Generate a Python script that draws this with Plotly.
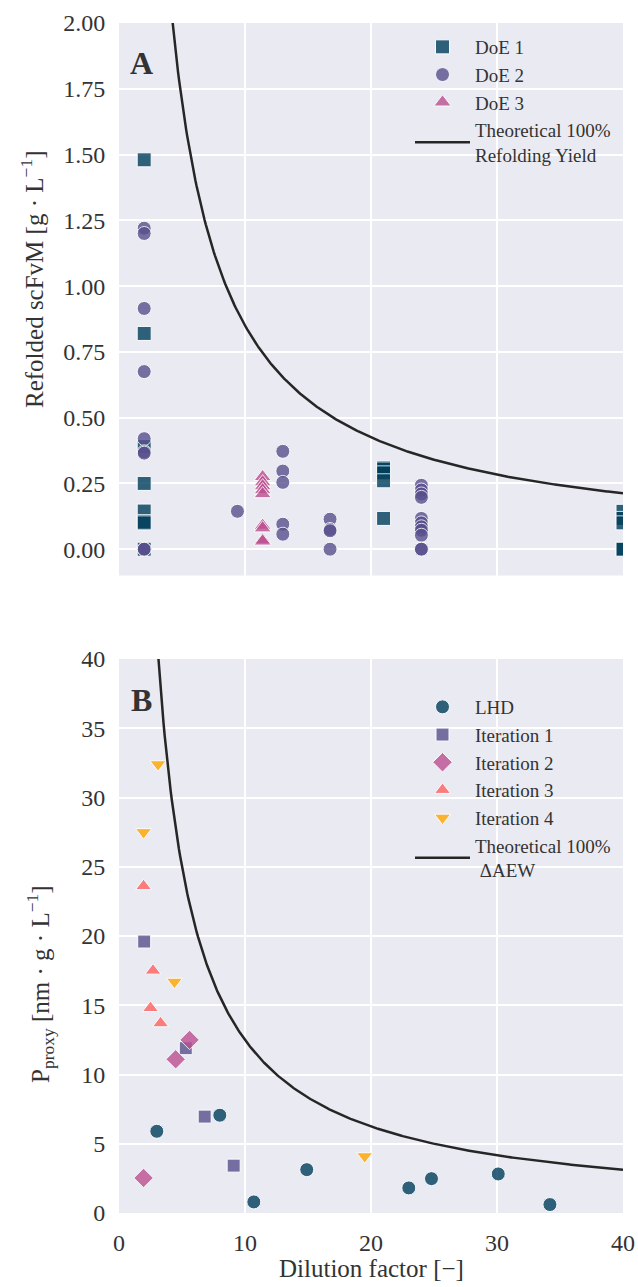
import numpy as np
import plotly.graph_objects as go

# ---------------- Panel A: refolded scFvM vs dilution factor ----------------
doe1_x = [2, 2, 2, 2, 2, 2, 2, 2,
          21, 21, 21, 21, 21,
          40, 40, 40, 40, 40]
doe1_y = [1.48, 0.82, 0.39, 0.25, 0.145, 0.105, 0.10, 0.0,
          0.31, 0.305, 0.29, 0.26, 0.117,
          0.144, 0.117, 0.10, 0.0, 0.0]

doe2_x = [2, 2, 2, 2, 2, 2, 2, 2, 2,
          9.4,
          13, 13, 13, 13, 13,
          16.75, 16.75, 16.75, 16.75,
          24, 24, 24, 24, 24, 24, 24, 24, 24, 24, 24]
doe2_y = [1.22, 1.20, 0.915, 0.675, 0.42, 0.37, 0.365, 0.0, 0.0,
          0.144,
          0.372, 0.297, 0.254, 0.095, 0.057,
          0.114, 0.075, 0.07, 0.0,
          0.243, 0.225, 0.21, 0.197, 0.117, 0.10, 0.085, 0.072, 0.053, 0.0, 0.0]

doe3_x = [11.4] * 9
doe3_y = [0.275, 0.255, 0.24, 0.225, 0.21, 0.09, 0.08, 0.035, 0.03]

# theoretical 100 % refolding yield:  y = k / dilution
yield_k = 8.5

# ---------------- Panel B: P_proxy vs dilution factor ----------------
lhd_x = [3.0, 8.0, 10.7, 14.9, 23.0, 24.8, 30.1, 34.2]
lhd_y = [5.9, 7.06, 0.8, 3.13, 1.81, 2.48, 2.82, 0.61]

it1_x = [2.0, 5.3, 6.8, 9.1]
it1_y = [19.6, 11.9, 6.96, 3.42]

it2_x = [1.95, 4.5, 5.6]
it2_y = [2.53, 11.1, 12.5]

it3_x = [1.95, 2.7, 2.5, 3.3]
it3_y = [23.6, 17.5, 14.8, 13.7]

it4_x = [3.1, 1.95, 4.4, 19.5]
it4_y = [32.4, 27.5, 16.7, 4.1]

# theoretical 100 % ΔAEW:  y = k / dilution
aew_k = 125.0

x_range = [0, 40]

palette = ["#003f5c", "#58508d", "#bc5090", "#ff6361", "#ffa600"]
FONT = "Liberation Serif, Times New Roman, serif"
TXT = "#333333"
BG = "#EAEAF2"

W, H = 638, 1287
ML, MR, MT, MB = 119, 15, 23, 74
plot_h = H - MT - MB


def py(px):
    """pixel row -> paper y fraction"""
    return (H - MB - px) / plot_h


def px_x(px):
    """pixel column -> paper x fraction"""
    return (px - ML) / (W - ML - MR)


fig = go.Figure()


def marker(color, symbol, size):
    return dict(color=color, symbol=symbol, size=size, opacity=0.8,
                line=dict(color="white", width=1))


# Panel A traces
fig.add_trace(go.Scatter(x=doe1_x, y=doe1_y, mode="markers", name="DoE 1",
                         marker=marker(palette[0], "square", 14),
                         xaxis="x", yaxis="y", legend="legend"))
fig.add_trace(go.Scatter(x=doe2_x, y=doe2_y, mode="markers", name="DoE 2",
                         marker=marker(palette[1], "circle", 14),
                         xaxis="x", yaxis="y", legend="legend"))
fig.add_trace(go.Scatter(x=doe3_x, y=doe3_y, mode="markers", name="DoE 3",
                         marker=marker(palette[2], "triangle-up", 15),
                         xaxis="x", yaxis="y", legend="legend"))
xa = np.linspace(3.5, 40, 400)
fig.add_trace(go.Scatter(x=xa, y=yield_k / xa, mode="lines",
                         name="Theoretical 100%<br>Refolding Yield",
                         line=dict(color="#262626", width=2.5),
                         xaxis="x", yaxis="y", legend="legend"))

# Panel B traces
fig.add_trace(go.Scatter(x=lhd_x, y=lhd_y, mode="markers", name="LHD",
                         marker=marker(palette[0], "circle", 14),
                         xaxis="x2", yaxis="y2", legend="legend2"))
fig.add_trace(go.Scatter(x=it1_x, y=it1_y, mode="markers", name="Iteration 1",
                         marker=marker(palette[1], "square", 13),
                         xaxis="x2", yaxis="y2", legend="legend2"))
fig.add_trace(go.Scatter(x=it2_x, y=it2_y, mode="markers", name="Iteration 2",
                         marker=marker(palette[2], "diamond", 15),
                         xaxis="x2", yaxis="y2", legend="legend2"))
fig.add_trace(go.Scatter(x=it3_x, y=it3_y, mode="markers", name="Iteration 3",
                         marker=marker(palette[3], "triangle-up", 14),
                         xaxis="x2", yaxis="y2", legend="legend2"))
fig.add_trace(go.Scatter(x=it4_x, y=it4_y, mode="markers", name="Iteration 4",
                         marker=marker(palette[4], "triangle-down", 14),
                         xaxis="x2", yaxis="y2", legend="legend2"))
xb = np.linspace(2.5, 40, 400)
fig.add_trace(go.Scatter(x=xb, y=aew_k / xb, mode="lines",
                         name="Theoretical 100%<br> ΔAEW",
                         line=dict(color="#262626", width=2.5),
                         xaxis="x2", yaxis="y2", legend="legend2"))

axis_common = dict(showgrid=True, gridcolor="white", gridwidth=1.6,
                   zeroline=False, showline=False, automargin=False,
                   tickcolor="rgba(0,0,0,0)",
                   tickfont=dict(family=FONT, size=24, color=TXT))

legend_common = dict(font=dict(family=FONT, size=19, color=TXT),
                     bgcolor="rgba(0,0,0,0)", borderwidth=0,
                     itemwidth=55, xanchor="left", yanchor="top",
                     tracegroupgap=0)

fig.update_layout(
    width=W, height=H,
    margin=dict(l=ML, r=MR, t=MT, b=MB, autoexpand=False),
    paper_bgcolor="white", plot_bgcolor=BG,
    font=dict(family=FONT, color=TXT),
    xaxis=dict(domain=[0, 1], range=x_range, dtick=10, showticklabels=False,
               ticks="", anchor="y", **axis_common),
    yaxis=dict(domain=[py(575.5), 1], range=[-0.1, 2.0], dtick=0.25,
               tickformat=".2f", ticks="outside", ticklen=8, anchor="x",
               **axis_common),
    xaxis2=dict(domain=[0, 1], range=x_range, dtick=10, ticks="outside",
                ticklen=8, anchor="y2", **axis_common),
    yaxis2=dict(domain=[0, py(659)], range=[0, 40], dtick=5, ticks="outside",
                ticklen=8, anchor="x2", **axis_common),
    legend=dict(x=px_x(410), y=py(28), **legend_common),
    legend2=dict(x=px_x(410), y=py(688), **legend_common),
    showlegend=True,
)


def label(text, x, y, size, angle=0):
    return dict(text=text, x=px_x(x), y=py(y), xref="paper", yref="paper",
                xanchor="center", yanchor="middle", textangle=angle,
                showarrow=False, font=dict(family=FONT, size=size, color=TXT))


annotations = [
    label("<b>A</b>", 141, 63, 32),
    label("<b>B</b>", 141, 700, 32),
    label("Refolded scFvM [g · L<sup>−1</sup>]", 32, 280, 25, -90),
    label("P<sub>proxy</sub> [nm · g · L<sup>−1</sup>]", 40, 984, 25, -90),
    label("Dilution factor [−]", 371, 1268, 25),
]
fig.update_layout(annotations=annotations)

fig.write_html("out.html")
